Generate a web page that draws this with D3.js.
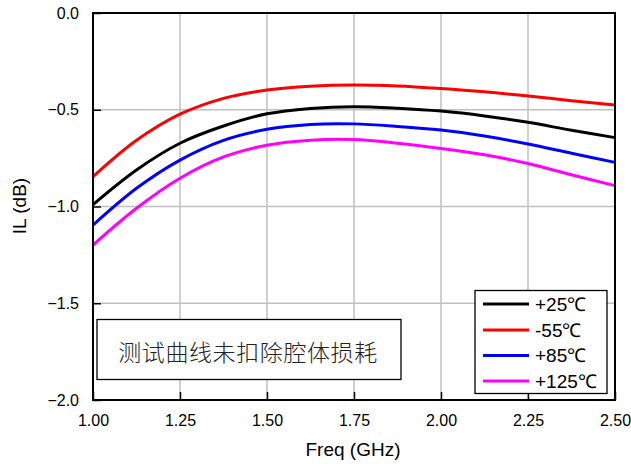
<!DOCTYPE html>
<html><head><meta charset="utf-8">
<script src="https://cdn.jsdelivr.net/npm/d3@7"></script>
<style>body{margin:0;background:#fff;} svg{display:block;}</style>
</head><body>
<svg id="c" width="631" height="464"></svg>
<script>
const freq = [1.0, 1.125, 1.25, 1.375, 1.5, 1.625, 1.75, 1.875, 2.0, 2.125, 2.25, 2.375, 2.5];
const il25  = [-0.990, -0.811, -0.673, -0.584, -0.521, -0.493, -0.484, -0.492, -0.507, -0.532, -0.565, -0.606, -0.644];
const ilm55 = [-0.846, -0.658, -0.523, -0.441, -0.398, -0.378, -0.372, -0.377, -0.390, -0.407, -0.429, -0.453, -0.475];
const il85  = [-1.096, -0.906, -0.760, -0.658, -0.601, -0.576, -0.573, -0.586, -0.605, -0.636, -0.677, -0.725, -0.772];
const il125 = [-1.199, -1.009, -0.854, -0.744, -0.683, -0.657, -0.654, -0.673, -0.700, -0.733, -0.778, -0.836, -0.892];
const seriesNames = ["+25℃", "-55℃", "+85℃", "+125℃"];
const seriesColors = ["#000000", "#ff0000", "#0000ff", "#ff00ff"];
const xTicks = [1.00, 1.25, 1.50, 1.75, 2.00, 2.25, 2.50];
const yTicks = [0.0, -0.5, -1.0, -1.5, -2.0];
const note = "测试曲线未扣除腔体损耗";

const series = [il25, ilm55, il85, il125];
const svg = d3.select("#c");
const L = 93, R = 615, T = 13, B = 400;
const x = d3.scaleLinear().domain([1.0, 2.5]).range([L, R]);
const y = d3.scaleLinear().domain([-2.0, 0.0]).range([B, T]);
const font = "Liberation Sans, Arial, sans-serif";

// grid
const g = svg.append("g");
g.selectAll("line.gx").data(xTicks.slice(1, -1)).join("line")
  .attr("x1", d => x(d)).attr("x2", d => x(d)).attr("y1", T).attr("y2", B)
  .attr("stroke", "#c0c0c0").attr("stroke-width", 1.5);
g.selectAll("line.gy").data(yTicks.slice(1, -1)).join("line")
  .attr("y1", d => y(d)).attr("y2", d => y(d)).attr("x1", L).attr("x2", R)
  .attr("stroke", "#c0c0c0").attr("stroke-width", 1.5);

// axes with inward ticks
const xAxis = d3.axisBottom(x).tickValues(xTicks).tickSizeInner(-8).tickSizeOuter(0).tickPadding(15).tickFormat(d3.format(".2f"));
const yAxis = d3.axisLeft(y).tickValues(yTicks).tickSizeInner(-8).tickSizeOuter(0).tickPadding(14).tickFormat(d3.format(".1f"));
const gx = svg.append("g").attr("transform", `translate(0,${B})`).call(xAxis);
const gy = svg.append("g").attr("transform", `translate(${L},0)`).call(yAxis);
[gx, gy].forEach(a => {
  a.select(".domain").remove();
  a.selectAll(".tick line").attr("stroke", "#000").attr("stroke-width", 1.5);
  a.selectAll(".tick text").attr("font-family", font).attr("font-size", 16).attr("fill", "#000");
});

// curves
const line = d3.line().x((d, i) => x(freq[i])).y(d => y(d)).curve(d3.curveCatmullRom.alpha(0.5));
svg.append("g").selectAll("path").data(series).join("path")
  .attr("d", d => line(d)).attr("fill", "none")
  .attr("stroke", (d, i) => seriesColors[i]).attr("stroke-width", 3);

// frame
svg.append("rect").attr("x", L).attr("y", T).attr("width", R - L).attr("height", B - T)
  .attr("fill", "none").attr("stroke", "#000").attr("stroke-width", 2);

// note box
svg.append("rect").attr("x", 97).attr("y", 319.5).attr("width", 304).attr("height", 60)
  .attr("fill", "#fff").attr("stroke", "#000").attr("stroke-width", 1.3);
svg.append("text").attr("x", 248).attr("y", 351).attr("text-anchor", "middle")
  .attr("dominant-baseline", "central")
  .attr("font-family", "Noto Sans CJK SC, sans-serif").attr("font-size", 23).attr("font-weight", 300)
  .attr("letter-spacing", 0.6).attr("fill", "#222").text(note);

// legend
const lg = svg.append("g");
lg.append("rect").attr("x", 475).attr("y", 290.5).attr("width", 132).attr("height", 103)
  .attr("fill", "#fff").attr("stroke", "#000").attr("stroke-width", 1.3);
const rows = [304, 330, 355.5, 381];
seriesNames.forEach((n, i) => {
  lg.append("line").attr("x1", 483).attr("x2", 529).attr("y1", rows[i]).attr("y2", rows[i])
    .attr("stroke", seriesColors[i]).attr("stroke-width", 3);
  lg.append("text").attr("x", 535).attr("y", rows[i]).attr("dominant-baseline", "central")
    .attr("font-family", font).attr("font-size", 19).attr("fill", "#000").text(n);
});

// axis titles
svg.append("text").attr("x", 353).attr("y", 449).attr("text-anchor", "middle")
  .attr("dominant-baseline", "central").attr("font-family", font).attr("font-size", 19).text("Freq (GHz)");
svg.append("text").attr("transform", "translate(19,206) rotate(-90)").attr("text-anchor", "middle")
  .attr("dominant-baseline", "central").attr("font-family", font).attr("font-size", 19).text("IL (dB)");
</script>
</body></html>
